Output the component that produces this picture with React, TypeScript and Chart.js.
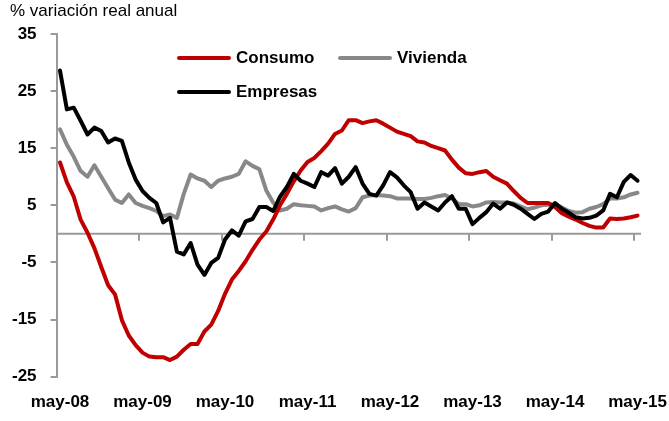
import React, { useEffect, useRef } from 'react';
import { Chart, registerables } from 'chart.js';

Chart.register(...registerables);

// Month names (Spanish) and series start
const monthNames = ['ene', 'feb', 'mar', 'abr', 'may', 'jun', 'jul', 'ago', 'sep', 'oct', 'nov', 'dic'];
const startMonthIndex = 4; // may
const startYear = 2008;
const pointCount = 85; // may-08 .. may-15
const labelEvery = 12;

const categories: string[] = Array.from({ length: pointCount }, (_, i) => {
  const m = (startMonthIndex + i) % 12;
  const y = startYear + Math.floor((startMonthIndex + i) / 12);
  return `${monthNames[m]}-${String(y % 100).padStart(2, '0')}`;
});

const yTicks = [-25, -15, -5, 5, 15, 25, 35];

const consumo = [
  12.5, 9.0, 6.5, 2.5, 0.2, -2.5, -5.8, -9.0, -10.6, -15.1,
  -17.8, -19.5, -20.8, -21.5, -21.6, -21.6, -22.1, -21.5, -20.3, -19.3,
  -19.3, -17.1, -15.9, -13.5, -10.5, -8.0, -6.5, -4.8, -2.8, -1.0,
  0.4, 2.5, 5.0, 7.0, 9.2, 11.1, 12.6, 13.3, 14.5, 15.8,
  17.5, 18.1, 19.9, 19.9, 19.4, 19.7, 19.9, 19.3, 18.6, 17.9,
  17.5, 17.1, 16.2, 16.0, 15.4, 15.0, 14.6, 13.0, 11.6, 10.6,
  10.5, 10.8, 11.0, 10.0, 9.4, 8.8, 7.5, 6.3, 5.4, 5.4,
  5.4, 5.4, 4.7, 3.6, 3.0, 2.5, 1.9, 1.4, 1.1, 1.1,
  2.7, 2.6, 2.7, 2.9, 3.2,
];

const vivienda = [
  18.3, 15.6, 13.5, 11.0, 10.0, 12.0, 10.0, 8.0, 6.0, 5.4,
  6.9, 5.4, 4.9, 4.5, 4.0, 3.1, 3.4, 2.8, 7.0, 10.4,
  9.7, 9.3, 8.2, 9.3, 9.7, 10.0, 10.5, 12.7, 11.9, 11.3,
  7.6, 5.5, 4.1, 4.4, 5.2, 5.0, 4.9, 4.8, 4.1, 4.5,
  4.8, 4.3, 3.9, 4.5, 6.4, 6.7, 6.8, 6.7, 6.6, 6.2,
  6.2, 6.2, 6.1, 6.1, 6.3, 6.6, 6.8, 6.2, 5.2, 5.2,
  4.8, 5.0, 5.5, 5.6, 5.5, 5.5, 5.3, 4.8, 4.3, 4.6,
  5.0, 5.1, 5.2, 4.6, 4.0, 3.7, 3.8, 4.4, 4.7, 5.2,
  6.2, 6.2, 6.4, 6.9, 7.2,
];

const empresas = [
  28.6, 21.8, 22.1, 19.8, 17.4, 18.6, 18.0, 16.0, 16.7, 16.3,
  12.5, 9.5, 7.5, 6.3, 5.4, 2.0, 2.8, -3.1, -3.6, -1.6,
  -5.4, -7.2, -5.1, -4.2, -1.0, 0.6, -0.3, 2.2, 2.6, 4.7,
  4.7, 4.0, 6.5, 8.2, 10.5, 9.3, 8.8, 8.2, 10.8, 10.2,
  11.5, 8.8, 10.0, 11.7, 8.8, 7.0, 6.7, 8.5, 10.8, 9.9,
  8.5, 7.3, 4.4, 5.5, 4.8, 4.1, 5.5, 6.6, 4.4, 4.4,
  1.7, 2.8, 3.8, 5.3, 4.4, 5.5, 5.1, 4.4, 3.5, 2.6,
  3.5, 3.9, 5.4, 4.4, 3.7, 2.9, 2.7, 2.8, 3.2, 4.1,
  7.0, 6.4, 9.1, 10.3, 9.3,
];

const seriesNames = ['Consumo', 'Vivienda', 'Empresas'];
const seriesColors = ['#C00000', '#888888', '#000000'];
const yTitle = '% variación real anual';

const FONT = "'Liberation Sans', Arial, sans-serif";
const AXIS_GRAY = '#9a9a9a';

// Draws the horizontal axis line at value 0 with yearly tick marks (through the chart scales)
const zeroAxisPlugin = {
  id: 'zeroAxis',
  beforeDatasetsDraw(chart: any) {
    const { ctx, chartArea, scales } = chart;
    const x = scales.x;
    const y = scales.y;
    const y0 = y.getPixelForValue(0);
    const half = (x.getPixelForValue(1) - x.getPixelForValue(0)) / 2;
    ctx.save();
    ctx.strokeStyle = AXIS_GRAY;
    ctx.lineWidth = 2;
    ctx.beginPath();
    ctx.moveTo(chartArea.left, y0);
    ctx.lineTo(chartArea.right, y0);
    for (let i = 0; i < categories.length; i += labelEvery) {
      const px = Math.round(x.getPixelForValue(i) - half);
      ctx.moveTo(px, y0);
      ctx.lineTo(px, y0 + 7);
    }
    ctx.stroke();
    ctx.restore();
  },
};

export default function App() {
  const ref = useRef<HTMLCanvasElement | null>(null);

  useEffect(() => {
    if (!ref.current) return;
    const values = [consumo, vivienda, empresas];
    const chart = new Chart(ref.current, {
      type: 'line',
      data: {
        labels: categories,
        datasets: values.map((v, k) => ({
          label: seriesNames[k],
          data: v,
          borderColor: seriesColors[k],
          backgroundColor: seriesColors[k],
          borderWidth: 4,
          pointRadius: 0,
          tension: 0,
          borderJoinStyle: 'round' as const,
          borderCapStyle: 'round' as const,
          order: k === 1 ? 3 : k === 0 ? 2 : 1,
        })),
      },
      plugins: [zeroAxisPlugin],
      options: {
        animation: false,
        responsive: false,
        maintainAspectRatio: false,
        layout: { padding: { left: -2, right: 28, top: 34, bottom: 6 } },
        plugins: {
          legend: { display: false },
          tooltip: { enabled: false },
        },
        scales: {
          x: {
            type: 'category',
            position: 'bottom',
            offset: true,
            grid: {
              display: true,
              drawOnChartArea: false,
              drawTicks: true,
              tickLength: 14,
              color: 'rgba(0,0,0,0)',
            },
            border: { display: false },
            ticks: {
              autoSkip: false,
              maxRotation: 0,
              minRotation: 0,
              padding: 2,
              color: '#000',
              font: { family: FONT, size: 17, weight: 'bold' },
              callback: (_v: any, idx: number) => (idx % labelEvery === 0 ? categories[idx] : ''),
            },
          },
          y: {
            type: 'linear',
            position: 'left',
            min: yTicks[0],
            max: yTicks[yTicks.length - 1],
            afterBuildTicks: (scale: any) => {
              scale.ticks = yTicks.map((v) => ({ value: v }));
            },
            grid: {
              drawOnChartArea: false,
              drawTicks: true,
              tickLength: 6,
              lineWidth: 2,
              color: AXIS_GRAY,
            },
            border: { display: true, color: AXIS_GRAY, width: 2 },
            ticks: {
              padding: 14,
              color: '#000',
              font: { family: FONT, size: 17, weight: 'bold' },
            },
          },
        },
      },
    });
    return () => chart.destroy();
  }, []);

  const legendText: React.CSSProperties = {
    position: 'absolute',
    fontFamily: FONT,
    fontWeight: 'bold',
    fontSize: 17,
    lineHeight: '20px',
    color: '#000',
    whiteSpace: 'nowrap',
  };
  const legendLine = (color: string, left: number, top: number): React.CSSProperties => ({
    position: 'absolute',
    left,
    top,
    width: 54,
    height: 4,
    borderRadius: 2,
    background: color,
  });

  return (
    <div style={{ position: 'absolute', left: 0, top: 0, width: 669, height: 421, background: '#fff' }}>
      <canvas ref={ref} width={669} height={421} style={{ display: 'block', width: 669, height: 421 }} />
      <div
        style={{
          position: 'absolute',
          left: 10,
          top: 1,
          fontFamily: FONT,
          fontSize: 17,
          lineHeight: '20px',
          color: '#000',
          whiteSpace: 'nowrap',
        }}
      >
        {yTitle}
      </div>
      <div style={legendLine(seriesColors[0], 177, 56)} />
      <div style={{ ...legendText, left: 236, top: 48 }}>{seriesNames[0]}</div>
      <div style={legendLine(seriesColors[1], 338, 56)} />
      <div style={{ ...legendText, left: 397, top: 48 }}>{seriesNames[1]}</div>
      <div style={legendLine(seriesColors[2], 177, 90)} />
      <div style={{ ...legendText, left: 236, top: 82 }}>{seriesNames[2]}</div>
    </div>
  );
}
